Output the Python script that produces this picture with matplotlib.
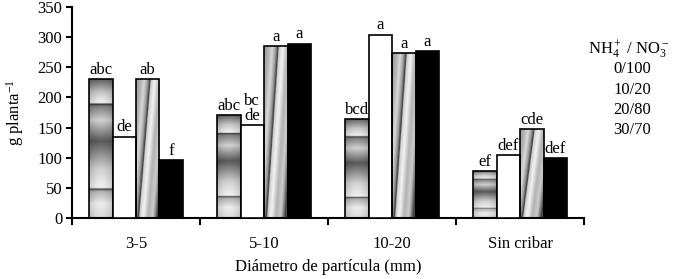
import numpy as np
import matplotlib
matplotlib.use("Agg")
import matplotlib.pyplot as plt

plt.rcParams["font.family"] = ["Liberation Serif", "DejaVu Serif"]
plt.rcParams["mathtext.fontset"] = "custom"
plt.rcParams["mathtext.rm"] = "Liberation Serif"
plt.rcParams["mathtext.it"] = "Liberation Serif:italic"

groups = ["3-5", "5-10", "10-20", "Sin cribar"]
series = ["0/100", "10/20", "20/80", "30/70"]
values = [
    [230, 171, 164, 78],   # 0/100
    [135, 154, 304, 105],  # 10/20
    [230, 285, 273, 148],  # 20/80
    [96, 289, 277, 99],    # 30/70
]
letters = [
    ["abc", "abc", "bcd", "ef"],
    ["de", "bc\nde", "a", "def"],
    ["ab", "a", "a", "cde"],
    ["f", "a", "a", "def"],
]

fig = plt.figure(figsize=(6.76, 2.79), dpi=100)
ax = fig.add_axes([0.1065, 0.2176, 0.7575, 0.7584])

width = 0.1835
x = np.arange(len(groups)) + 0.5
fs = 12


def band_profile(t):
    # metallic horizontal bands (series 0/100)
    pts = [0.0, 0.1, 0.19, 0.205, 0.215, 0.35, 0.55, 0.7, 0.8, 0.815, 0.825, 0.9, 1.0]
    val = [0.85, 0.93, 0.7, 0.25, 0.95, 0.82, 0.35, 0.82, 0.5, 0.2, 0.95, 0.78, 0.35]
    return np.interp(t, pts, val)


def streak_profile(u):
    # slanted streaks (series 20/80)
    pts = [-0.6, -0.3, -0.15, 0.0, 0.08, 0.1, 0.13, 0.3, 0.5, 0.7, 0.85, 0.9, 1.0]
    val = [0.55, 0.7, 0.85, 0.6, 0.3, 0.15, 0.8, 0.95, 0.7, 0.8, 0.4, 0.2, 0.5]
    return np.interp(u, pts, val)


for i, name in enumerate(series):
    pos = x + (i - 1.5) * width
    if i == 1:
        fc = "white"
    elif i == 3:
        fc = "black"
    else:
        fc = "none"
    bars = ax.bar(pos, values[i], width, color=fc, edgecolor="black",
                  linewidth=1.2, zorder=3, label=name)
    if i in (0, 2):
        for b in bars:
            x0, w, h = b.get_x(), b.get_width(), b.get_height()
            xf = np.linspace(0, 1, 40)
            tf = np.linspace(0, 1, 200)
            XX, TT = np.meshgrid(xf, tf)
            if i == 0:
                img = band_profile(TT) * (0.85 + 0.15 * np.sin(np.pi * XX))
            else:
                img = streak_profile(XX - 0.5 * TT)
            im = ax.imshow(img, cmap="gray", vmin=0, vmax=1, origin="lower",
                           extent=[x0, x0 + w, 0, h], aspect="auto",
                           interpolation="bilinear", zorder=2)
            im.set_clip_path(b)
    for p, v, lab in zip(pos, values[i], letters[i]):
        ax.text(p, v + 2, lab, ha="center", va="bottom", fontsize=fs,
                linespacing=0.9, zorder=4)

ax.set_xlim(0, len(groups))
ax.set_ylim(0, 350)
ax.set_yticks(range(0, 351, 50))
ax.set_xticks(np.arange(len(groups) + 1))
ax.set_xticklabels([])
ax.set_xticks(x, minor=True)
ax.set_xticklabels(groups, minor=True)
ax.tick_params(axis="x", which="minor", length=0, pad=13, labelsize=fs)
ax.tick_params(axis="x", which="major", length=5, width=1.5, direction="out")
ax.tick_params(axis="y", length=4, width=1.5, direction="out", labelsize=fs, pad=3)
for s in ["top", "right"]:
    ax.spines[s].set_visible(False)
for s in ["left", "bottom"]:
    ax.spines[s].set_linewidth(1.5)

ax.set_xlabel("Diámetro de partícula (mm)", fontsize=fs, labelpad=5)
ax.set_ylabel(r"g planta$^{\mathregular{-1}}$", fontsize=fs, labelpad=8)

# legend: text only
fig.text(629 / 676, 1 - 50 / 279, r"NH$_4^+$ / NO$_3^-$", ha="center", va="center",
         fontsize=fs)
for k, name in enumerate(series):
    fig.text(632 / 676, 1 - (69 + 20.5 * k) / 279, name, ha="center", va="center",
             fontsize=fs)

fig.savefig("out.png", dpi=100)
